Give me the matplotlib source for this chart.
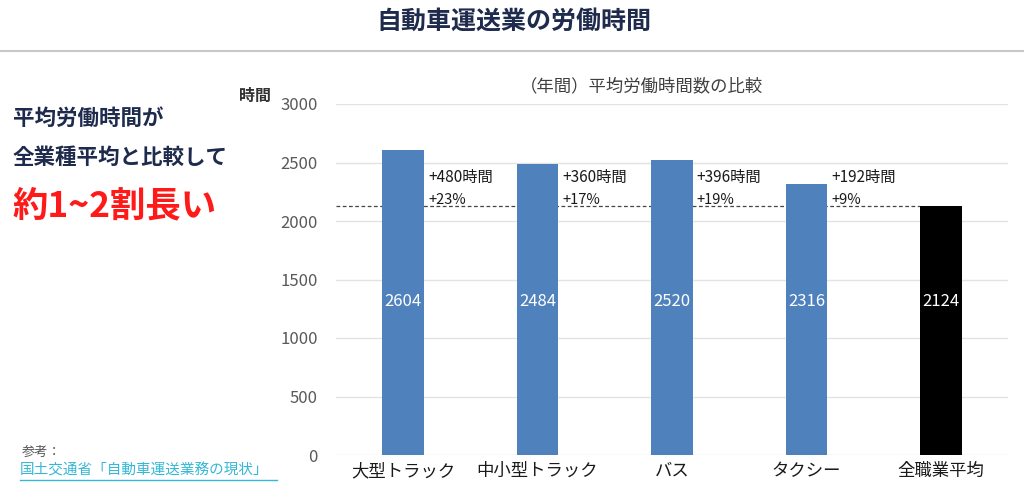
import matplotlib
matplotlib.use("Agg")
import matplotlib.pyplot as plt

plt.rcParams['font.family'] = ['Noto Sans CJK JP', 'DejaVu Sans']

categories = ['大型トラック', '中小型トラック', 'バス', 'タクシー', '全職業平均']
hours = [2604, 2484, 2520, 2316, 2124]
diff_hours = ['+480時間', '+360時間', '+396時間', '+192時間']
diff_pct = ['+23%', '+17%', '+19%', '+9%']
bar_colors = ['#4f81bd', '#4f81bd', '#4f81bd', '#4f81bd', '#000000']
yticks = [0, 500, 1000, 1500, 2000, 2500, 3000]
average = hours[-1]

W, H = 1024, 495
fig = plt.figure(figsize=(W / 100, H / 100), dpi=100)

# header
fig.text(514 / W, 1 - 22 / H, '自動車運送業の労働時間', ha='center', va='center',
         fontsize=18, fontweight='bold', color='#1f2b4d')
fig.add_artist(plt.Line2D([0, 1], [1 - 51 / H, 1 - 51 / H], color='#c8c8c8', lw=1.5))

# left texts
fig.text(13 / W, 1 - 118 / H, '平均労働時間が', ha='left', va='center',
         fontsize=15.5, fontweight='bold', color='#1f2b4d')
fig.text(13 / W, 1 - 157 / H, '全業種平均と比較して', ha='left', va='center',
         fontsize=15.5, fontweight='bold', color='#1f2b4d')
fig.text(12 / W, 1 - 206 / H, '約1~2割長い', ha='left', va='center',
         fontsize=25.5, fontweight='bold', color='#ff1a1a')
fig.text(22 / W, 1 - 452 / H, '参考：', ha='left', va='center',
         fontsize=9.5, color='#555555')
fig.text(20 / W, 1 - 470 / H, '国土交通省「自動車運送業務の現状」', ha='left', va='center',
         fontsize=10.5, color='#33b8d6')
fig.add_artist(plt.Line2D([20 / W, 277 / W], [1 - 480 / H, 1 - 480 / H], color='#33b8d6', lw=1))

# axes
ax = fig.add_axes([336 / W, 1 - 455 / H, (1008 - 336) / W, (455 - 104) / H])
x = list(range(len(categories)))
bw = 0.31
ax.set_xlim(-0.5, len(categories) - 0.5)
ax.set_ylim(0, 3000)
ax.set_yticks(yticks)
ax.yaxis.grid(True, color='#e3e3e3', lw=1)
ax.set_axisbelow(True)
for s in ax.spines.values():
    s.set_visible(False)
ax.tick_params(axis='y', length=0, pad=13, labelsize=12, labelcolor='#595959')
ax.tick_params(axis='x', length=0, pad=5, labelsize=12.5, labelcolor='#1a1a1a')
ax.set_xticks(x)
ax.set_xticklabels(categories)

ax.hlines(average, -0.5, x[-1] - bw / 2, colors='#444444', linestyles=(0, (3, 2)), lw=0.9, zorder=2)
ax.bar(x, hours, width=bw, color=bar_colors, zorder=3)

for xi, v in zip(x, hours):
    ax.text(xi, 1316, str(v), ha='center', va='center', color='white',
            fontsize=12, zorder=4)

for xi, dh, dp in zip(x[:-1], diff_hours, diff_pct):
    ax.text(xi + bw / 2 + 0.03, 2375, dh, ha='left', va='center', fontsize=11, color='#1a1a1a')
    ax.text(xi + bw / 2 + 0.03, 2180, dp, ha='left', va='center', fontsize=10.5, color='#1a1a1a')

fig.text(642 / W, 1 - 86 / H, '（年間）平均労働時間数の比較', ha='center', va='center',
         fontsize=12.5, color='#404040')
fig.text(255 / W, 1 - 96 / H, '時間', ha='center', va='center',
         fontsize=11.5, fontweight='bold', color='#333333')

fig.savefig('out.png', dpi=100)
